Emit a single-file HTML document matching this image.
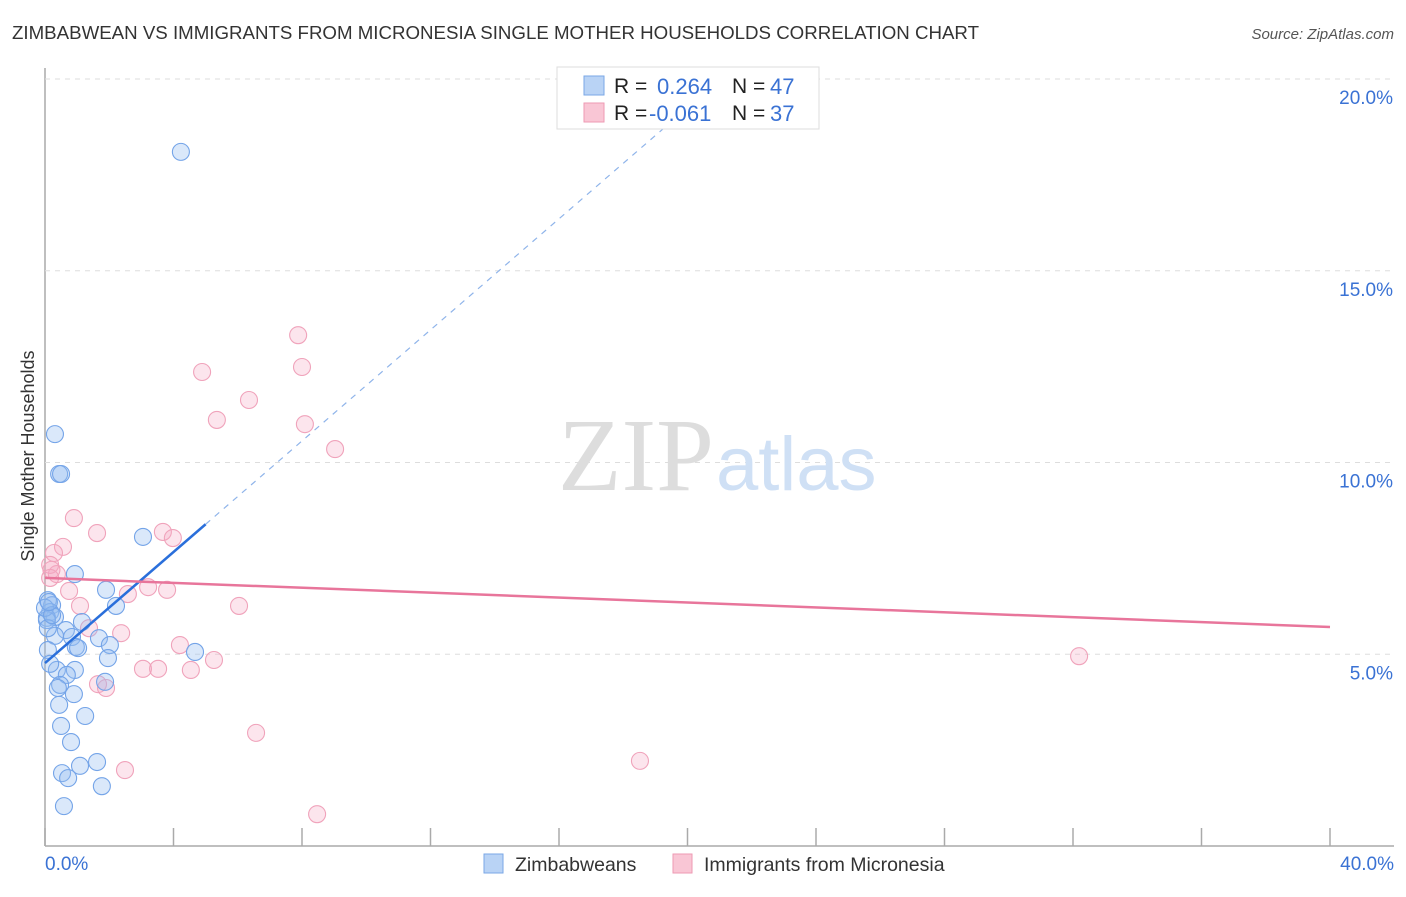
<!DOCTYPE html>
<html><head><meta charset="utf-8"><style>
body{margin:0;background:#fff;font-family:"Liberation Sans",sans-serif;}
svg text{font-family:"Liberation Sans",sans-serif;}
</style></head><body>
<svg id="chart" width="1406" height="892" xmlns="http://www.w3.org/2000/svg">
<text x="12" y="39" font-size="18.7" fill="#333">ZIMBABWEAN VS IMMIGRANTS FROM MICRONESIA SINGLE MOTHER HOUSEHOLDS CORRELATION CHART</text>
<text x="1394" y="39" font-size="15" fill="#555" font-style="italic" text-anchor="end">Source: ZipAtlas.com</text>
<text x="34" y="456" font-size="18" fill="#333" text-anchor="middle" transform="rotate(-90 34 456)">Single Mother Households</text>
<g id="grid"></g>
<text x="714" y="490" font-size="104" fill="#ddd" text-anchor="end" style="font-family:'Liberation Serif',serif">ZIP</text>
<text x="716" y="490" font-size="76" fill="#cfe0f5">atlas</text>
<g id="points"></g>
<g id="lines"></g>
<g>
<rect x="557" y="67" width="262" height="62" fill="#fff" stroke="#ddd"/>
<rect x="584" y="76" width="20" height="19" fill="#b9d3f5" stroke="#7aa7e6"/>
<rect x="584" y="103" width="20" height="19" fill="#f9c6d5" stroke="#ee9ab3"/>
<text x="614" y="93" font-size="21" fill="#222">R =</text>
<text x="657" y="94" font-size="22" fill="#3a72d4">0.264</text>
<text x="732" y="93" font-size="21" fill="#222">N =</text>
<text x="770" y="94" font-size="22" fill="#3a72d4">47</text>
<text x="614" y="120" font-size="21" fill="#222">R =</text>
<text x="649" y="121" font-size="22" fill="#3a72d4">-0.061</text>
<text x="732" y="120" font-size="21" fill="#222">N =</text>
<text x="770" y="121" font-size="22" fill="#3a72d4">37</text>
</g>
<g>
<rect x="484" y="854" width="19" height="19" fill="#b9d3f5" stroke="#7aa7e6"/>
<text x="515" y="871" font-size="19.5" fill="#333">Zimbabweans</text>
<rect x="673" y="854" width="19" height="19" fill="#f9c6d5" stroke="#ee9ab3"/>
<text x="704" y="871" font-size="19.5" fill="#333">Immigrants from Micronesia</text>
</g>
</svg>
<script>
const xTicks=[0,4,8,12,16,20,24,28,32,36,40];
const yTicks=[5,10,15,20];
const blueX=[4.23,0.31,0.44,0.50,3.05,0.93,1.90,2.21,0.09,0.22,0.16,0.31,0.06,1.15,0.65,0.31,0.84,1.68,0.96,1.03,2.02,4.67,1.96,0.09,0.37,0.93,0.68,0.47,0.40,1.87,0.90,1.25,0.44,0.50,0.81,1.09,1.62,0.53,0.72,1.77,0.59,0.06,0.09,0.0,0.22,0.12,0.16];
const blueY=[18.10,10.74,9.70,9.70,8.06,7.09,6.68,6.26,6.41,6.28,6.10,5.97,5.95,5.84,5.63,5.48,5.45,5.42,5.19,5.16,5.24,5.06,4.90,5.11,4.59,4.59,4.46,4.20,4.12,4.28,3.96,3.39,3.68,3.13,2.71,2.09,2.19,1.90,1.77,1.56,1.04,5.89,5.68,6.21,6.02,6.36,4.75];
const pinkX=[7.88,8.0,4.89,6.35,5.35,8.09,9.03,0.90,1.62,3.67,3.98,0.56,0.28,0.37,0.16,3.21,3.80,0.75,2.58,1.09,6.04,1.37,2.37,4.20,5.26,3.05,3.52,4.54,1.65,1.90,32.19,6.57,2.49,18.52,8.47,0.16,0.20];
const pinkY=[13.32,12.49,12.36,11.63,11.11,11.0,10.35,8.55,8.16,8.19,8.03,7.80,7.64,7.09,7.33,6.75,6.68,6.65,6.57,6.26,6.26,5.68,5.55,5.24,4.85,4.62,4.62,4.59,4.22,4.12,4.95,2.95,1.98,2.22,0.83,6.99,7.2];
const blueFit=[4.77,0.724];
const pinkFit=[6.99,-0.032];
const X0=45,X1=1330,Y0=846,PXY=38.35;
const sx=v=>X0+(X1-X0)*v/40, sy=v=>Y0-v*PXY;
const NS="http://www.w3.org/2000/svg";
function mk(t,a,p){const e=document.createElementNS(NS,t);for(const k in a)e.setAttribute(k,a[k]);p.appendChild(e);return e;}
const grid=document.getElementById('grid');
const ax=mk('line',{x1:X0,y1:68,x2:X0,y2:Y0,stroke:'#aaa','stroke-width':1.5},grid);


const bx=mk('line',{x1:X0,y1:Y0,x2:1394,y2:Y0,stroke:'#aaa','stroke-width':1.5},grid);


yTicks.forEach(v=>{
 const g=mk('line',{x1:X0,y1:sy(v),x2:1394,y2:sy(v),stroke:'#ddd','stroke-dasharray':'5,5'},grid);
 
 
 const t=mk('text',{x:1393,y:sy(v)+25,'font-size':19,fill:'#3a72d4','text-anchor':'end'},grid);t.textContent=v.toFixed(1)+'%';
 
 
});
xTicks.forEach(v=>{
 const l=mk('line',{x1:sx(v),y1:828,x2:sx(v),y2:Y0,stroke:'#aaa','stroke-width':1.5},grid);
 
 
});
[[0,'start',45],[40,'end',1394]].forEach(([v,a,x])=>{
 const t=mk('text',{x:x,y:870,'font-size':19,fill:'#3a72d4','text-anchor':a},grid);t.textContent=v.toFixed(1)+'%';
 
 
});
const pts=document.getElementById('points');
pinkX.forEach((x,i)=>{
 const c=mk('circle',{cx:sx(x),cy:sy(pinkY[i]),r:8.5,fill:'rgba(246,170,195,0.3)',stroke:'#f0a3bb','stroke-width':1.1},pts);
 
 
});
blueX.forEach((x,i)=>{
 const c=mk('circle',{cx:sx(x),cy:sy(blueY[i]),r:8.5,fill:'rgba(150,190,240,0.35)',stroke:'#74a4e8','stroke-width':1.1},pts);
 
 
});
const ln=document.getElementById('lines');
const f=(fit,x)=>fit[0]+fit[1]*x;
const b1=mk('line',{x1:sx(0),y1:sy(f(blueFit,0)),x2:sx(5),y2:sy(f(blueFit,5)),stroke:'#2a6fdb','stroke-width':2.5},ln);


const xe=(20.3-blueFit[0])/blueFit[1];
const b2=mk('line',{x1:sx(5),y1:sy(f(blueFit,5)),x2:sx(xe),y2:sy(20.3),stroke:'#8fb4ea','stroke-width':1.2,'stroke-dasharray':'6,6'},ln);


const p1=mk('line',{x1:sx(0),y1:sy(f(pinkFit,0)),x2:sx(40),y2:sy(f(pinkFit,40)),stroke:'#e8759b','stroke-width':2.5},ln);


</script>
</body></html>
